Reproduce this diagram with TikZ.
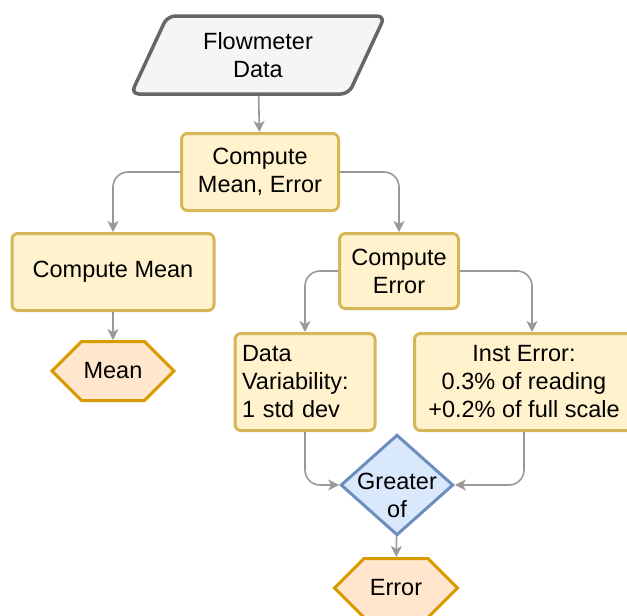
\documentclass[tikz,border=0pt]{standalone}
\usepackage{fontspec}
\setmainfont{Liberation Sans}
\usepackage{tikz}
\usetikzlibrary{shapes.geometric, shapes.symbols, arrows.meta, positioning}

\definecolor{iofill}{HTML}{F5F5F5}
\definecolor{ioline}{HTML}{666666}
\definecolor{boxfill}{HTML}{FFF2CC}
\definecolor{boxline}{HTML}{D6B656}
\definecolor{outfill}{HTML}{FFE6CC}
\definecolor{outline}{HTML}{D79B00}
\definecolor{decfill}{HTML}{DAE8FC}
\definecolor{decline}{HTML}{6C8EBF}
\definecolor{linegray}{HTML}{999999}

\begin{document}
\begin{tikzpicture}[
    x=1pt, y=-1pt,
    font=\fontsize{23.5}{28}\selectfont,
    iobox/.style={trapezium, trapezium left angle=55, trapezium right angle=125, trapezium stretches body, rounded corners=8pt, draw=ioline, fill=iofill, line width=3.5pt, align=center, minimum width=254, minimum height=78},
    box/.style={rectangle, rounded corners=6pt, draw=boxline, fill=boxfill, line width=3pt, align=center},
    result/.style={signal, signal to=west and east, signal from=nowhere, signal pointer angle=90, draw=outline, fill=outfill, line width=3pt, minimum height=59, inner sep=2pt},
    decision/.style={diamond, aspect=1.12, inner sep=-7pt, draw=decline, fill=decfill, line width=3pt},
    arrow/.style={-{Stealth[length=11pt, width=11pt, inset=3pt]}, draw=linegray, line width=1.6pt, rounded corners=15pt}
  ]
    \useasboundingbox (0,0) rectangle (627,616);

    % input, first step and the mean branch
    \node[iobox] (data) at (258,55) {Flowmeter\\Data};
    \node[box, minimum width=157, minimum height=77] (both) at (260,172) {Compute\\Mean, Error};
    \node[box, minimum width=202, minimum height=77] (cmean) at (113,272) {Compute Mean};
    \node[result, minimum width=118] (mean) at (113,371) {Mean};

    % error branch
    \node[box, minimum width=119, minimum height=75] (cerr) at (399,271) {Compute\\Error};
    \node[box, text width=126, inner sep=7pt, minimum height=97, align=left] (var) at (305,382) {Data\\Variability:\\1 std dev};
    \node[box, minimum width=219, minimum height=97] (inst) at (524,382) {Inst Error:\\0.3\% of reading\\+0.2\% of full scale};
    \node[decision, minimum width=108, minimum height=96] (greater) at (397,485)
      {\raisebox{-13pt}[\height][\depth]{\begin{tabular}{@{}c@{}}Greater\\of\end{tabular}}};
    \node[result, minimum width=123] (err) at (396,588) {Error};

    \draw[arrow] (data) -- (both);
    \draw[arrow] (both.west) -| (cmean.north);
    \draw[arrow] (both.east) -| (cerr.north);
    \draw[arrow] (cmean) -- (mean);
    \draw[arrow] (cerr.west) -| (var.north);
    \draw[arrow] (cerr.east) -| ([xshift=8pt]inst.north);
    \draw[arrow] (var.south) |- (greater.west);
    \draw[arrow] (inst.south) |- (greater.east);
    \draw[arrow] (greater) -- (err);
\end{tikzpicture}
\end{document}
